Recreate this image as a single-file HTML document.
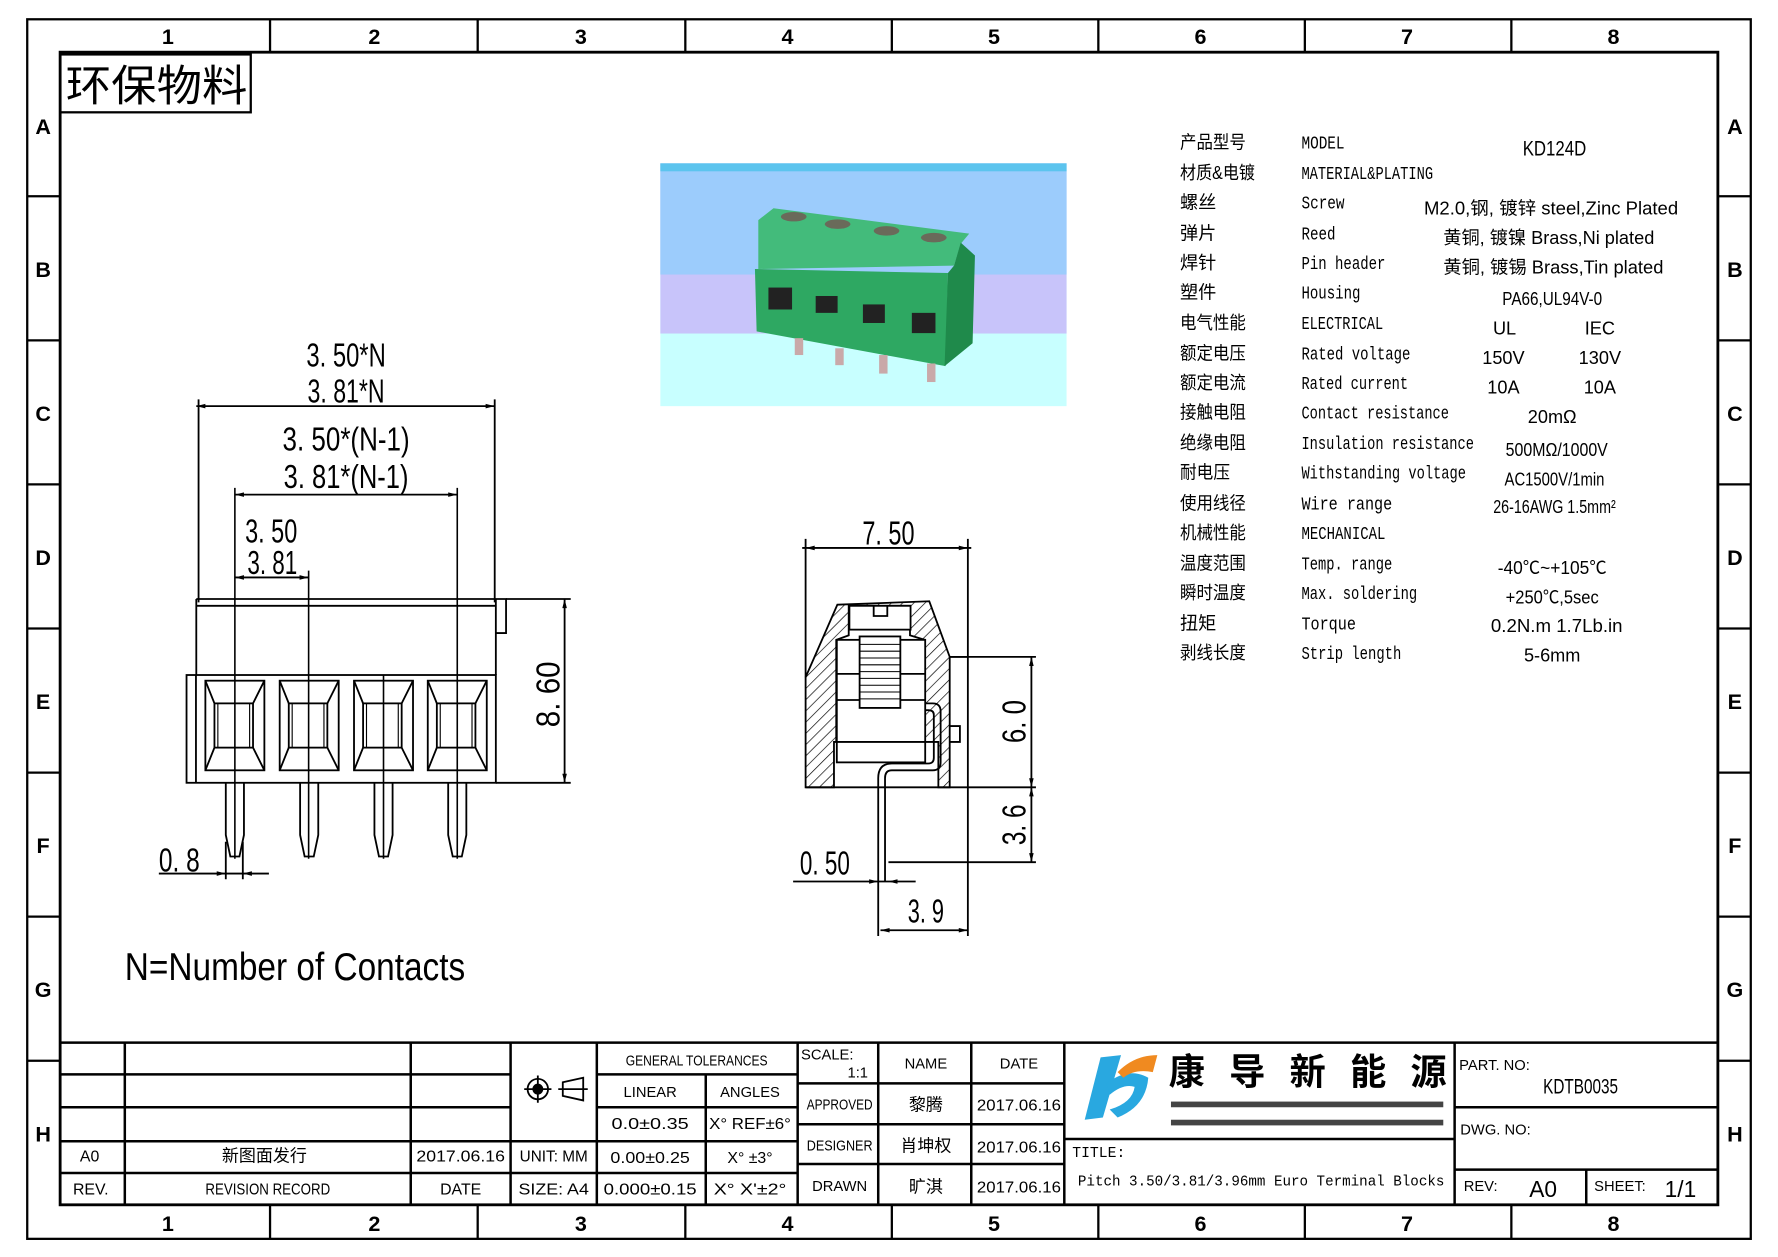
<!DOCTYPE html>
<html><head><meta charset="utf-8"><style>
html,body{margin:0;padding:0;background:#fff;width:1778px;height:1257px;overflow:hidden}
svg{display:block}
text{font-family:"Liberation Sans Narrow","Liberation Sans","Noto Sans CJK SC",sans-serif;fill:#000}
.c{text-anchor:middle}
.cj{font-family:"Liberation Sans","Noto Sans CJK SC",sans-serif}
.mono{font-family:"Liberation Mono",monospace}
</style></head><body>
<svg width="1778" height="1257" viewBox="0 0 1567 1108" preserveAspectRatio="none" xmlns="http://www.w3.org/2000/svg">
<rect x="0" y="0" width="1567" height="1108" fill="#fff"/>
<g fill="none" stroke="#000" stroke-width="2">
<rect x="24" y="17" width="1519" height="1075"/>
<rect x="53" y="46" width="1461" height="1016" stroke-width="2.5"/>
<path d="M238 17V46M421 17V46M604 17V46M786 17V46M968 17V46M1150 17V46M1332 17V46"/>
<path d="M238 1062V1092M421 1062V1092M604 1062V1092M786 1062V1092M968 1062V1092M1150 1062V1092M1332 1062V1092"/>
<path d="M24 173H53M24 300H53M24 427H53M24 554H53M24 681H53M24 808H53M24 935H53"/>
<path d="M1514 173H1543M1514 300H1543M1514 427H1543M1514 554H1543M1514 681H1543M1514 808H1543M1514 935H1543"/>
<rect x="53" y="48" width="168" height="51"/>
</g>
<g font-size="19" font-weight="bold">
<text class="c" x="148" y="39">1</text><text class="c" x="330" y="39">2</text><text class="c" x="512" y="39">3</text><text class="c" x="694" y="39">4</text><text class="c" x="876" y="39">5</text><text class="c" x="1058" y="39">6</text><text class="c" x="1240" y="39">7</text><text class="c" x="1422" y="39">8</text>
<text class="c" x="148" y="1085">1</text><text class="c" x="330" y="1085">2</text><text class="c" x="512" y="1085">3</text><text class="c" x="694" y="1085">4</text><text class="c" x="876" y="1085">5</text><text class="c" x="1058" y="1085">6</text><text class="c" x="1240" y="1085">7</text><text class="c" x="1422" y="1085">8</text>
<text class="c" x="38" y="118">A</text><text class="c" x="38" y="244">B</text><text class="c" x="38" y="371">C</text><text class="c" x="38" y="498">D</text><text class="c" x="38" y="625">E</text><text class="c" x="38" y="752">F</text><text class="c" x="38" y="879">G</text><text class="c" x="38" y="1006">H</text>
<text class="c" x="1529" y="118">A</text><text class="c" x="1529" y="244">B</text><text class="c" x="1529" y="371">C</text><text class="c" x="1529" y="498">D</text><text class="c" x="1529" y="625">E</text><text class="c" x="1529" y="752">F</text><text class="c" x="1529" y="879">G</text><text class="c" x="1529" y="1006">H</text>
</g>
<text class="cj" x="58" y="89" font-size="38" textLength="160" lengthAdjust="spacingAndGlyphs">环保物料</text>

<!-- photo -->
<g>
<rect x="582" y="144" width="358" height="214" fill="#c8ffff"/>
<rect x="582" y="144" width="358" height="150" fill="#c8c4fa"/>
<rect x="582" y="144" width="358" height="98" fill="#9cccfc"/>
<rect x="582" y="144" width="358" height="7" fill="#5cc4ee"/>
<g transform="translate(579.1,136) scale(0.2974)">
<polygon points="300,195 345,160 925,235 900,265 880,330 300,340" fill="#43bb7b"/>
<polygon points="290,340 862,352 855,628 295,525" fill="#2ea862"/>
<polygon points="900,262 942,300 935,560 852,628 862,352 880,330" fill="#1f8a4b"/>
<rect x="330" y="395" width="70" height="65" fill="#222"/>
<rect x="470" y="420" width="65" height="50" fill="#222"/>
<rect x="610" y="445" width="65" height="55" fill="#222"/>
<rect x="755" y="470" width="70" height="60" fill="#222"/>
<ellipse cx="405" cy="185" rx="38" ry="14" fill="#6a6a5a"/>
<ellipse cx="535" cy="207" rx="38" ry="14" fill="#6a6a5a"/>
<ellipse cx="680" cy="227" rx="38" ry="14" fill="#6a6a5a"/>
<ellipse cx="820" cy="247" rx="38" ry="14" fill="#6a6a5a"/>
<rect x="408" y="545" width="25" height="50" fill="#c9a9a9"/>
<rect x="528" y="575" width="25" height="50" fill="#c9a9a9"/>
<rect x="658" y="595" width="25" height="55" fill="#c9a9a9"/>
<rect x="800" y="620" width="25" height="55" fill="#c9a9a9"/>
</g>
</g>

<!-- left front view -->
<g fill="none" stroke="#000" stroke-width="1.6">
<path d="M173 358H436M175 352V531M436 352V531"/>
<path d="M207 436H403M207 509H272"/>
<path d="M207 430V757M272 503V757M403 430V757M338 595V757" stroke-width="1.4"/>
<path d="M173 528H437M173 534H437M173 528V595M437 528V595M437 528H446V558H437" />
<rect x="164.4" y="595" width="272.6" height="95"/>
<path d="M172.7 595V690"/>
<path d="M437 690H503M446 528H503M497.6 528V690"/>
<path d="M140 770H237M199 742V775M214 742V775"/>
</g>
<g fill="#000">
<path d="M173 358l8-2v4zM436 358l-8-2v4zM207 436l8-2v4zM403 436l-8-2v4zM207 509l8-2v4zM272 509l-8-2v4zM497.6 528l-2 8h4zM497.6 690l-2-8h4zM199 770l-8-2v4zM214 770l8-2v4z"/>
</g>
<g fill="none" stroke="#000" stroke-width="1.6">
<g id="sq">
<rect x="181" y="600" width="52" height="79"/>
<rect x="189" y="620" width="34" height="39"/>
<rect x="192" y="620" width="28" height="39" stroke-width="1"/>
<path d="M181 600L189 620M233 600L223 620M181 679L189 659M233 679L223 659"/>
<path d="M199 690V736L203 755H211L215 736V690"/>
</g>
<use href="#sq" transform="translate(65.5,0)"/>
<use href="#sq" transform="translate(131,0)"/>
<use href="#sq" transform="translate(196,0)"/>
</g>
<g font-size="29">
<text class="c" x="305" y="323" textLength="70" lengthAdjust="spacingAndGlyphs">3. 50*N</text>
<text class="c" x="305" y="355" textLength="68" lengthAdjust="spacingAndGlyphs">3. 81*N</text>
<text class="c" x="305" y="397" textLength="112" lengthAdjust="spacingAndGlyphs">3. 50*(N-1)</text>
<text class="c" x="305" y="430" textLength="110" lengthAdjust="spacingAndGlyphs">3. 81*(N-1)</text>
<text x="216" y="478" textLength="46" lengthAdjust="spacingAndGlyphs">3. 50</text>
<text x="218" y="506" textLength="44" lengthAdjust="spacingAndGlyphs">3. 81</text>
<text x="140" y="768" textLength="36" lengthAdjust="spacingAndGlyphs">0. 8</text>
<text transform="translate(493,612) rotate(-90)" class="c" textLength="58" lengthAdjust="spacingAndGlyphs">8. 60</text>
<text x="110" y="864" font-size="34" textLength="300" lengthAdjust="spacingAndGlyphs">N=Number of Contacts</text>
</g>

<!-- side view -->
<defs>
<pattern id="h" width="7" height="7" patternUnits="userSpaceOnUse" patternTransform="rotate(45)">
<rect width="7" height="7" fill="#fff"/><line x1="0" y1="0" x2="0" y2="7" stroke="#000" stroke-width="1.2"/>
</pattern>
</defs>
<g fill="none" stroke="#000" stroke-width="1.6">
<path d="M710 475V597M853 475V694M707 483H856"/>
<polygon points="738,533 819,530 837,579 837,694 827,694 827,654 815,654 815,564 802,560 802,534 748,534 748,560 737,564 737,654 735,654 735,694 710,694 710,597" fill="url(#h)"/>
<path d="M837 579H853M710 694H853"/>
<rect x="737.5" y="564" width="77.9" height="108" fill="#fff"/>
<path d="M737.5 594H815M737.5 617H815M737.5 654H815"/>
<rect x="748.6" y="534" width="53.9" height="21" fill="#fff"/>
<path d="M770 534V543H782V534"/>
<rect x="757.6" y="561" width="35.9" height="63" fill="#fff"/>
<path d="M758 568h35M758 574h35M758 580h35M758 586h35M758 592h35M758 598h35M758 604h35M758 610h35M758 616h35" stroke-width="0.9"/>
<path d="M815 620H822Q829 620 829 627V672Q829 679 822 679H786Q780 679 780 686V777M774 777V686Q774 673 786 673H818Q823 673 823 668V630Q823 626 818 626H815"/>
<path d="M837 640H846V654H837"/>
<path d="M837 579H913M853 694H913M783 760H913M909 579V760"/>
<path d="M699 777H807M774 777V825M853 694V825M776 820H853"/>
</g>
<g fill="#000">
<path d="M710 483l8-2v4zM853 483l-8-2v4zM909 579l-2 8h4zM909 694l-2-8h4zM909 694l-2 8h4zM909 760l-2-8h4zM774 777l-8-2v4zM783 777l8-2v4zM776 820l8-2v4zM853 820l-8-2v4z"/>
</g>
<g font-size="29">
<text class="c" x="783" y="480" textLength="46" lengthAdjust="spacingAndGlyphs">7. 50</text>
<text transform="translate(904,636) rotate(-90)" class="c" textLength="38" lengthAdjust="spacingAndGlyphs">6. 0</text>
<text transform="translate(904,727) rotate(-90)" class="c" textLength="36" lengthAdjust="spacingAndGlyphs">3. 6</text>
<text x="705" y="771" textLength="44" lengthAdjust="spacingAndGlyphs">0. 50</text>
<text class="c" x="816" y="813" textLength="32" lengthAdjust="spacingAndGlyphs">3. 9</text>
</g>

<!-- spec table -->
<g font-size="16" class="cj">
<text x="1040" y="131" textLength="58" lengthAdjust="spacingAndGlyphs">产品型号</text>
<text x="1040" y="158" textLength="66" lengthAdjust="spacingAndGlyphs">材质&amp;电镀</text>
<text x="1040" y="184">螺丝</text>
<text x="1040" y="211">弹片</text>
<text x="1040" y="237">焊针</text>
<text x="1040" y="263">塑件</text>
<text x="1040" y="290" textLength="58" lengthAdjust="spacingAndGlyphs">电气性能</text>
<text x="1040" y="317" textLength="58" lengthAdjust="spacingAndGlyphs">额定电压</text>
<text x="1040" y="343" textLength="58" lengthAdjust="spacingAndGlyphs">额定电流</text>
<text x="1040" y="369" textLength="58" lengthAdjust="spacingAndGlyphs">接触电阻</text>
<text x="1040" y="396" textLength="58" lengthAdjust="spacingAndGlyphs">绝缘电阻</text>
<text x="1040" y="422" textLength="44" lengthAdjust="spacingAndGlyphs">耐电压</text>
<text x="1040" y="449" textLength="58" lengthAdjust="spacingAndGlyphs">使用线径</text>
<text x="1040" y="475" textLength="58" lengthAdjust="spacingAndGlyphs">机械性能</text>
<text x="1040" y="502" textLength="58" lengthAdjust="spacingAndGlyphs">温度范围</text>
<text x="1040" y="528" textLength="58" lengthAdjust="spacingAndGlyphs">瞬时温度</text>
<text x="1040" y="555">扭矩</text>
<text x="1040" y="581" textLength="58" lengthAdjust="spacingAndGlyphs">剥线长度</text>
</g>
<g font-size="16">
<text class="mono" x="1147" y="131" textLength="38" lengthAdjust="spacingAndGlyphs">MODEL</text>
<text class="mono" x="1147" y="158" textLength="116" lengthAdjust="spacingAndGlyphs">MATERIAL&amp;PLATING</text>
<text class="mono" x="1147" y="184" textLength="38" lengthAdjust="spacingAndGlyphs">Screw</text>
<text class="mono" x="1147" y="211" textLength="30" lengthAdjust="spacingAndGlyphs">Reed</text>
<text class="mono" x="1147" y="237" textLength="74" lengthAdjust="spacingAndGlyphs">Pin header</text>
<text class="mono" x="1147" y="263" textLength="52" lengthAdjust="spacingAndGlyphs">Housing</text>
<text class="mono" x="1147" y="290" textLength="72" lengthAdjust="spacingAndGlyphs">ELECTRICAL</text>
<text class="mono" x="1147" y="317" textLength="96" lengthAdjust="spacingAndGlyphs">Rated voltage</text>
<text class="mono" x="1147" y="343" textLength="94" lengthAdjust="spacingAndGlyphs">Rated current</text>
<text class="mono" x="1147" y="369" textLength="130" lengthAdjust="spacingAndGlyphs">Contact resistance</text>
<text class="mono" x="1147" y="396" textLength="152" lengthAdjust="spacingAndGlyphs">Insulation resistance</text>
<text class="mono" x="1147" y="422" textLength="145" lengthAdjust="spacingAndGlyphs">Withstanding voltage</text>
<text class="mono" x="1147" y="449" textLength="80" lengthAdjust="spacingAndGlyphs">Wire range</text>
<text class="mono" x="1147" y="475" textLength="74" lengthAdjust="spacingAndGlyphs">MECHANICAL</text>
<text class="mono" x="1147" y="502" textLength="80" lengthAdjust="spacingAndGlyphs">Temp. range</text>
<text class="mono" x="1147" y="528" textLength="102" lengthAdjust="spacingAndGlyphs">Max. soldering</text>
<text class="mono" x="1147" y="555" textLength="48" lengthAdjust="spacingAndGlyphs">Torque</text>
<text class="mono" x="1147" y="581" textLength="88" lengthAdjust="spacingAndGlyphs">Strip length</text>
</g>
<g font-size="16" class="cj">
<text class="c" x="1370" y="137" font-size="19" textLength="56" lengthAdjust="spacingAndGlyphs">KD124D</text>
<text x="1255" y="189" textLength="224" lengthAdjust="spacingAndGlyphs">M2.0,钢, 镀锌 steel,Zinc Plated</text>
<text x="1272" y="215" textLength="186" lengthAdjust="spacingAndGlyphs">黄铜, 镀镍 Brass,Ni plated</text>
<text x="1272" y="241" textLength="194" lengthAdjust="spacingAndGlyphs">黄铜, 镀锡 Brass,Tin plated</text>
<text class="c" x="1368" y="269" textLength="88" lengthAdjust="spacingAndGlyphs">PA66,UL94V-0</text>
<text class="c" x="1326" y="295">UL</text><text class="c" x="1410" y="295">IEC</text>
<text class="c" x="1325" y="321">150V</text><text class="c" x="1410" y="321">130V</text>
<text class="c" x="1325" y="347">10A</text><text class="c" x="1410" y="347">10A</text>
<text class="c" x="1368" y="373">20mΩ</text>
<text class="c" x="1372" y="402" textLength="90" lengthAdjust="spacingAndGlyphs">500MΩ/1000V</text>
<text class="c" x="1370" y="428" textLength="88" lengthAdjust="spacingAndGlyphs">AC1500V/1min</text>
<text class="c" x="1370" y="452" textLength="108" lengthAdjust="spacingAndGlyphs">26-16AWG 1.5mm²</text>
<text class="c" x="1368" y="506" textLength="96" lengthAdjust="spacingAndGlyphs">-40℃~+105℃</text>
<text class="c" x="1368" y="532" textLength="82" lengthAdjust="spacingAndGlyphs">+250℃,5sec</text>
<text class="c" x="1372" y="557" textLength="116" lengthAdjust="spacingAndGlyphs">0.2N.m  1.7Lb.in</text>
<text class="c" x="1368" y="583">5-6mm</text>
</g>

<!-- title block -->
<g fill="none" stroke="#000" stroke-width="2.2">
<path d="M53 919H1514"/>
<path d="M53 947H450M53 976H450M53 1006H703M53 1034H703"/>
<path d="M526 947H703M526 976H703"/>
<path d="M110 919V1062M362 919V1062M450 919V1062M526 919V1062M622 947V1062M703 919V1062"/>
<path d="M703 955H938M703 991H938M703 1026H938M774 919V1062M856 919V1062M938 919V1062"/>
<path d="M938 1004H1282M1282 919V1062M1282 976H1514M1282 1031H1514M1398 1031V1062"/>
</g>
<g font-size="14">
<text class="c" x="79" y="1024">A0</text>
<text class="c cj" x="233" y="1024" font-size="15">新图面发行</text>
<text class="c" x="406" y="1024" textLength="78" lengthAdjust="spacingAndGlyphs">2017.06.16</text>
<text class="c" x="80" y="1053">REV.</text>
<text class="c" x="236" y="1053" textLength="110" lengthAdjust="spacingAndGlyphs">REVISION RECORD</text>
<text class="c" x="406" y="1053">DATE</text>
<text class="c" x="488" y="1024" textLength="60" lengthAdjust="spacingAndGlyphs">UNIT: MM</text>
<text class="c" x="488" y="1053" textLength="62" lengthAdjust="spacingAndGlyphs">SIZE: A4</text>
<text class="c" x="614" y="939" font-size="13" textLength="125" lengthAdjust="spacingAndGlyphs">GENERAL TOLERANCES</text>
<text class="c" x="573" y="967" font-size="13">LINEAR</text>
<text class="c" x="661" y="967" font-size="13">ANGLES</text>
<text class="c" x="573" y="995" textLength="68" lengthAdjust="spacingAndGlyphs">0.0±0.35</text>
<text class="c" x="661" y="995" textLength="72" lengthAdjust="spacingAndGlyphs">X° REF±6°</text>
<text class="c" x="573" y="1025" textLength="70" lengthAdjust="spacingAndGlyphs">0.00±0.25</text>
<text class="c" x="661" y="1025">X° ±3°</text>
<text class="c" x="573" y="1053" textLength="82" lengthAdjust="spacingAndGlyphs">0.000±0.15</text>
<text class="c" x="661" y="1053" textLength="64" lengthAdjust="spacingAndGlyphs">X° X'±2°</text>
<text x="706" y="934" font-size="13">SCALE:</text>
<text x="765" y="950" font-size="13" text-anchor="end">1:1</text>
<text class="c" x="816" y="942" font-size="13">NAME</text>
<text class="c" x="898" y="942" font-size="13">DATE</text>
<text class="c" x="740" y="978" font-size="13" textLength="58" lengthAdjust="spacingAndGlyphs">APPROVED</text>
<text class="c cj" x="816" y="979" font-size="15">黎腾</text>
<text class="c" x="898" y="979" textLength="74" lengthAdjust="spacingAndGlyphs">2017.06.16</text>
<text class="c" x="740" y="1014" font-size="13" textLength="58" lengthAdjust="spacingAndGlyphs">DESIGNER</text>
<text class="c cj" x="816" y="1015" font-size="15">肖坤权</text>
<text class="c" x="898" y="1016" textLength="74" lengthAdjust="spacingAndGlyphs">2017.06.16</text>
<text class="c" x="740" y="1050" font-size="13">DRAWN</text>
<text class="c cj" x="816" y="1051" font-size="15">旷淇</text>
<text class="c" x="898" y="1051" textLength="74" lengthAdjust="spacingAndGlyphs">2017.06.16</text>
<text class="mono" x="945" y="1020" font-size="13">TITLE:</text>
<text class="mono" x="950" y="1045" font-size="13" textLength="323" lengthAdjust="spacingAndGlyphs">Pitch 3.50/3.81/3.96mm Euro Terminal Blocks</text>
<text x="1286" y="943" font-size="13">PART. NO:</text>
<text class="c" x="1393" y="964" font-size="19" textLength="66" lengthAdjust="spacingAndGlyphs">KDTB0035</text>
<text x="1287" y="1000" font-size="13">DWG. NO:</text>
<text x="1290" y="1050" font-size="13">REV:</text>
<text class="c" x="1360" y="1055" font-size="20">A0</text>
<text x="1405" y="1050" font-size="13">SHEET:</text>
<text class="c" x="1481" y="1055" font-size="20">1/1</text>
</g>
<g fill="none" stroke="#000" stroke-width="1.6">
<circle cx="474" cy="960" r="9"/><circle cx="474" cy="960" r="4" fill="#000"/>
<path d="M462 960H486M474 948V972M492 960H518M496 954L514 950V970L496 966Z"/>
</g>
<g>
<path d="M970 932L988 930L972 985L956 987Z" fill="#29a8e0"/>
<path d="M975 955Q995 940 1012 950Q1010 975 985 985L978 978Q998 972 1000 958Q990 955 978 965Z" fill="#29a8e0"/>
<path d="M985 945Q1000 930 1020 930L1016 945Q1000 942 990 950Z" fill="#f08a20"/>
<text x="1030" y="956" font-size="32" class="cj" font-weight="bold" textLength="245" lengthAdjust="spacing">康导新能源</text>
<rect x="1032" y="971" width="240" height="5" fill="#444"/>
<rect x="1032" y="987" width="240" height="5" fill="#444"/>
</g>
</svg>
</body></html>
